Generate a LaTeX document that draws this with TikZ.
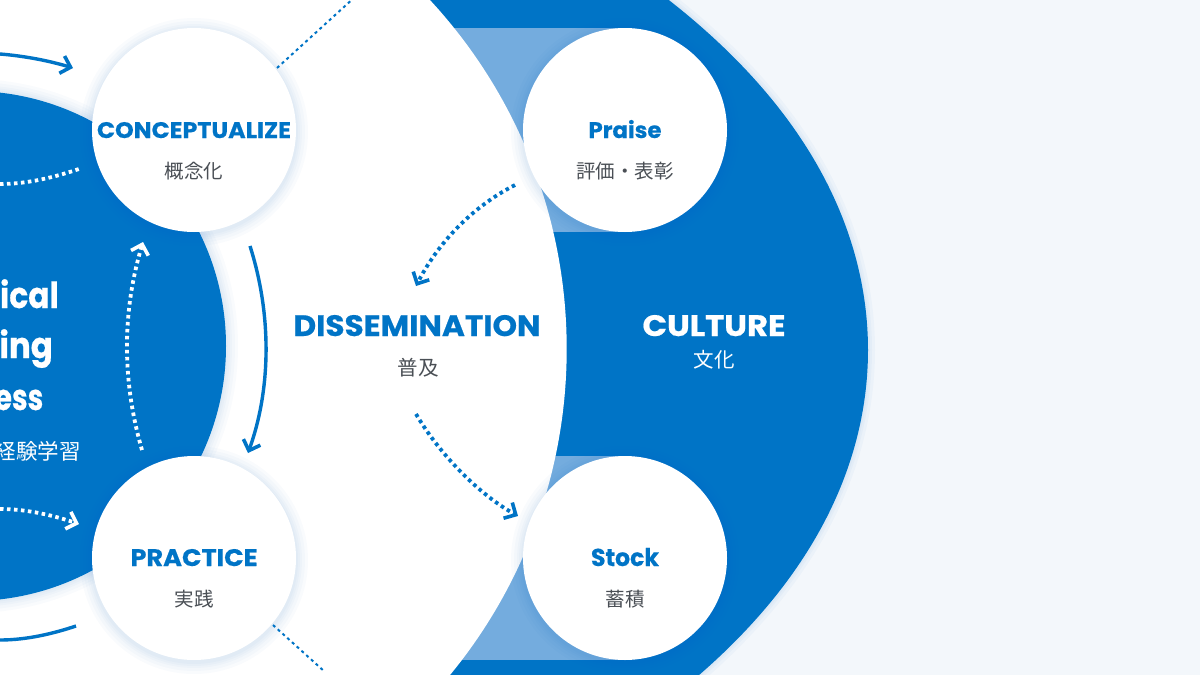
\documentclass[tikz,border=0pt]{standalone}
\usepackage{fontspec}
\usepackage{graphicx}
\usetikzlibrary{arrows.meta}
\newfontfamily\headfont{Poppins}[BoldFeatures={FakeBold=0.5}]
\newfontfamily\jpfont{Noto Sans CJK JP}
\definecolor{brand}{HTML}{0074C6}
\definecolor{glowblue}{HTML}{0060C8}
\definecolor{paleblue}{HTML}{74ACDE}
\definecolor{pagebg}{HTML}{F3F7FB}
\definecolor{jpgrey}{HTML}{4A4F55}
\newcommand{\headfit}[3]{\resizebox{#1pt}{#2pt}{\headfont\bfseries #3}}
\newcommand{\bigline}[2]{\scalebox{#1}[1]{\headfont\bfseries\fontsize{36pt}{36pt}\selectfont #2}}
\newcommand{\softglow}[3]{\foreach \gr in {2,4,6,9,12}{\fill[glowblue,opacity=.022] (#1,#2) circle ({#3+\gr});}}
\newcommand{\cultureedge}{plot[domain=-3.8:3.8,samples=80,smooth,variable=\t] ({868-14.3*\t*\t-0.16*\t*\t*\t*\t},{350+100*\t})}
\tikzset{
  x=1pt,y=-1pt,
  lbl/.style={inner sep=0pt,anchor=base},
  head/.style={lbl,text=brand},
  headw/.style={lbl,text=white},
  jp/.style={lbl,text=jpgrey,font=\jpfont\fontsize{19.5pt}{19.5pt}\selectfont},
  jpw/.style={lbl,text=white,font=\jpfont\fontsize{20.5pt}{20.5pt}\selectfont},
  ball/.style={circle,fill=white,minimum size=204pt,inner sep=0pt},
  barb/.style={-{Straight Barb[length=9pt,width=18pt,line width=3.6pt]}},
  solidarc/.style={line width=3.4pt,barb},
  dotarc/.style={line width=3.8pt,dash pattern=on 3.5pt off 3.5pt,barb},
  thindash/.style={brand,line width=2pt,dash pattern=on 3pt off 3.4pt},
}
\begin{document}
\begin{tikzpicture}
\clip (0,0) rectangle (1200,675);
\fill[pagebg] (0,0) rectangle (1200,675);
% culture disc
\foreach \gw in {4,8,14}{\draw[glowblue,opacity=.03,line width=\gw pt] \cultureedge;}
\fill[brand] \cultureedge -- (300,730) -- (300,-30) -- cycle;
% pale bands
\fill[paleblue] (430,28) rectangle (625,232);
\fill[paleblue] (430,456) rectangle (625,660);
% dissemination lens
\fill[white] (53,349) circle (513.7);
% learning disc
\softglow{-29}{346}{255}
\fill[brand] (-29,346) circle (255);
% glows
\softglow{194}{132}{102}
\softglow{194}{560}{102}
\softglow{625}{132}{102}
\softglow{625}{560}{102}
\node[ball] (concept) at (194,130) {};
\node[ball] (practice) at (194,558) {};
\node[ball] (praise) at (625,130) {};
\node[ball] (stock) at (625,558) {};
% free ends
\coordinate (a1s) at (0,54);   \coordinate (a1e) at (73,68);
\coordinate (a2s) at (0,184);  \coordinate (a2e) at (79,169);
\coordinate (a3s) at (250,246);\coordinate (a3e) at (248,453);
\coordinate (a4s) at (142,450);\coordinate (a4e) at (143,242);
\coordinate (a5s) at (0,509);  \coordinate (a5e) at (79,524);
\coordinate (a6s) at (0,640);  \coordinate (a6e) at (76,626);
\coordinate (a7s) at (277,68); \coordinate (a7e) at (356,-4);
\coordinate (a8s) at (273,625);\coordinate (a8e) at (325,672);
\coordinate (a9s) at (515,185);\coordinate (a9e) at (416,286);
\coordinate (a10s) at (416,414);\coordinate (a10e) at (518,516);
% connectors
\draw[solidarc,brand] (a1s) .. controls (25,56) and (50,61) .. (a1e);
\draw[white,line width=3.8pt,dash pattern=on 3.5pt off 3.5pt] (a2s) .. controls (28,184) and (55,177) .. (a2e);
\draw[solidarc,brand] (a3s) .. controls (271,312) and (272,386) .. (a3e);
\draw[dotarc,white] (a4s) .. controls (122,381) and (122,312) .. (a4e);
\draw[dotarc,white] (a5s) .. controls (28,509) and (55,516) .. (a5e);
\draw[brand,line width=3.4pt] (a6s) .. controls (28,640) and (55,633) .. (a6e);
\draw[thindash] (a7s) -- (a7e);
\draw[thindash] (a8s) -- (a8e);
\draw[dotarc,brand] (a9s) .. controls (470,208) and (437,245) .. (a9e);
\draw[dotarc,brand] (a10s) .. controls (437,450) and (475,492) .. (a10e);
% labels
\node[head] (tconcept) at (194,138) {\headfit{194}{16}{CONCEPTUALIZE}};
\node[jp] (jconcept) at (194,178) {概念化};
\node[head] (tpractice) at (194,566) {\headfit{127}{17}{PRACTICE}};
\node[jp] (jpractice) at (194,606) {実践};
\node[head] (tpraise) at (625,138) {\headfit{73}{18}{Praise}};
\node[jp] (jpraise) at (625,178) {評価・表彰};
\node[head] (tstock) at (625,566) {\headfit{68}{18}{Stock}};
\node[jp] (jstock) at (625,606) {蓄積};
\node[head] (tdiss) at (417,336) {\headfit{247}{21}{DISSEMINATION}};
\node[jp,font=\jpfont\fontsize{20.5pt}{20.5pt}\selectfont] (jdiss) at (418,375) {普及};
\node[headw] (tcult) at (714,336) {\headfit{143}{21}{CULTURE}};
\node[jpw] (jcult) at (714,367) {文化};
\node[headw,anchor=base east] (t1) at (59,308) {\bigline{.87}{ical}};
\node[headw,anchor=base east] (t2) at (53,358) {\bigline{.9}{ing}};
\node[headw,anchor=base east] (t3) at (43.5,410) {\bigline{.78}{ess}};
\node[jpw,anchor=base east,font=\jpfont\fontsize{21.5pt}{21.5pt}\selectfont] (t4) at (81,459) {経験学習};
\end{tikzpicture}
\end{document}
